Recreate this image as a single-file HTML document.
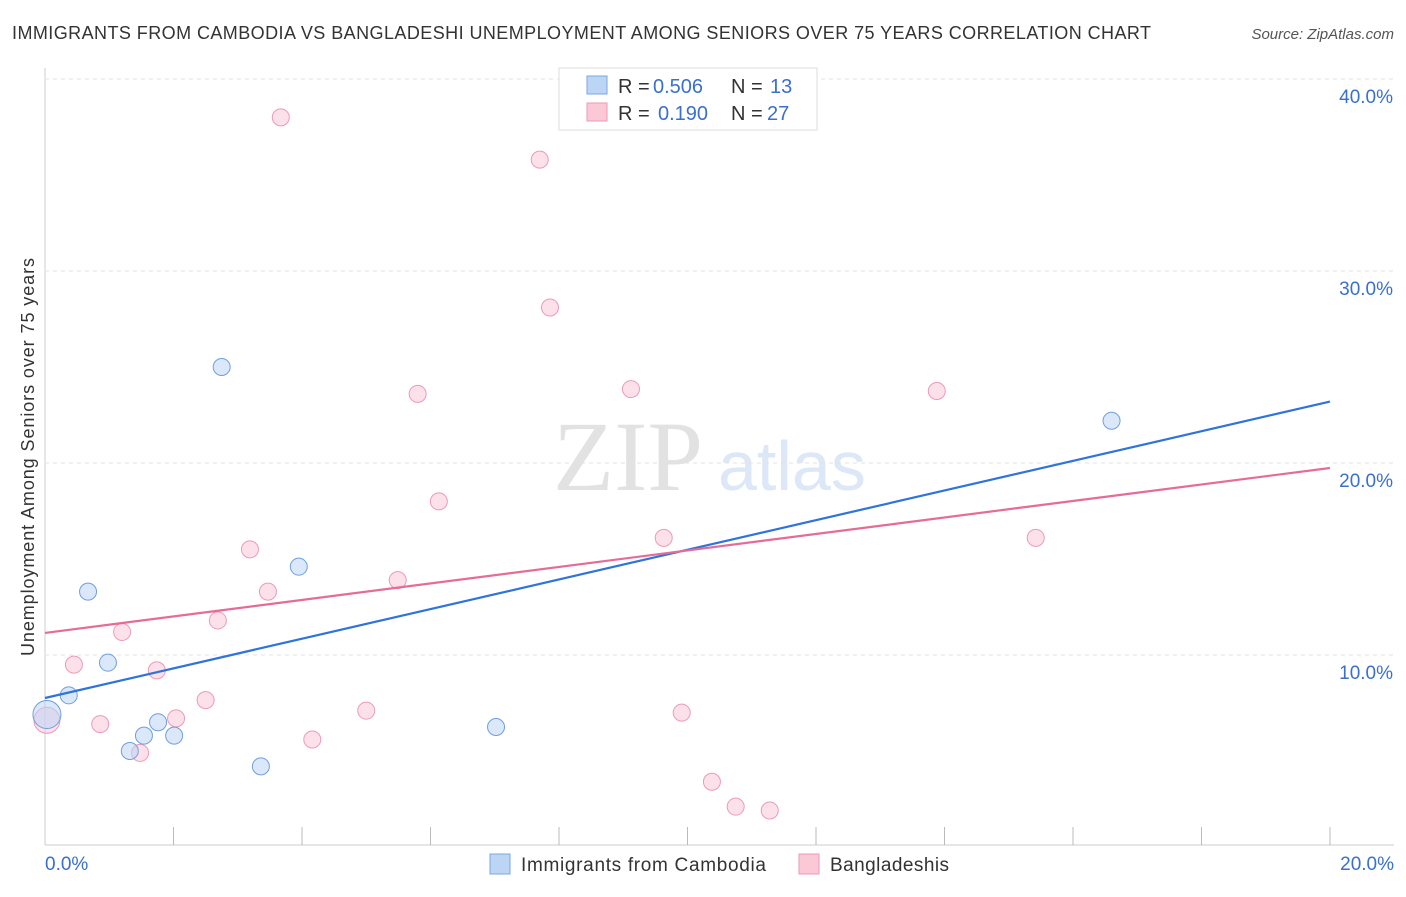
<!DOCTYPE html>
<html><head><meta charset="utf-8"><style>
body{margin:0;background:#fff;font-family:"Liberation Sans",sans-serif;}
</style></head><body>
<svg width="1406" height="892" xmlns="http://www.w3.org/2000/svg" id="svg">
<text x="12" y="39" font-size="18" fill="#333" textLength="1139">IMMIGRANTS FROM CAMBODIA VS BANGLADESHI UNEMPLOYMENT AMONG SENIORS OVER 75 YEARS CORRELATION CHART</text>
<text x="1394" y="39" font-size="15" fill="#555" font-style="italic" text-anchor="end">Source: ZipAtlas.com</text>
<text x="553" y="490" font-size="100" fill="#e2e2e2" font-family="Liberation Serif">ZIP</text>
<text x="718" y="490" font-size="70" fill="#dce7f7">atlas</text>
<g id="grid"></g><g id="marks"></g>
<text transform="translate(34,457) rotate(-90)" font-size="18" fill="#333" text-anchor="middle" textLength="398">Unemployment Among Seniors over 75 years</text>
<g>
<rect x="559" y="68" width="258" height="62" fill="#fff" stroke="#ddd"/>
<rect x="587" y="76" width="20" height="18" fill="#bcd5f5" stroke="#7aa6e0"/>
<rect x="587" y="103" width="20" height="18" fill="#fbc8d8" stroke="#ee9ab5"/>
<text x="618" y="93" font-size="20" fill="#333">R =</text>
<text x="653" y="93" font-size="20" fill="#3a6fd0">0.506</text>
<text x="731" y="93" font-size="20" fill="#333">N =</text>
<text x="770" y="93" font-size="20" fill="#3a6fd0">13</text>
<text x="618" y="120" font-size="20" fill="#333">R =</text>
<text x="658" y="120" font-size="20" fill="#3a6fd0">0.190</text>
<text x="731" y="120" font-size="20" fill="#333">N =</text>
<text x="767" y="120" font-size="20" fill="#3a6fd0">27</text>
</g>
<g>
<rect x="490" y="854" width="20" height="20" fill="#bcd5f5" stroke="#7aa6e0"/>
<text x="521" y="871" font-size="19" fill="#333" textLength="245">Immigrants from Cambodia</text>
<rect x="799" y="854" width="20" height="20" fill="#fbc8d8" stroke="#ee9ab5"/>
<text x="830" y="871" font-size="19" fill="#333" textLength="119">Bangladeshis</text>
</g>
</svg>
<script>
const xTicks=[0,2,4,6,8,10,12,14,16,18,20];
const yTicks=[10,20,30,40];
const camX=[0.03,0.37,0.67,0.98,1.32,1.54,1.76,2.01,2.75,3.36,3.95,7.02,16.6];
const camY=[6.9,7.9,13.3,9.6,5.0,5.8,6.5,5.8,25.0,4.2,14.6,6.25,22.2];
const banX=[0.03,0.45,0.86,1.2,1.48,1.74,2.04,2.5,2.69,3.19,3.47,3.67,4.16,5.0,5.49,5.8,6.13,7.7,7.86,9.12,9.63,9.91,10.38,10.75,11.28,13.88,15.42];
const banY=[6.6,9.5,6.4,11.2,4.9,9.2,6.7,7.65,11.8,15.5,13.3,38.0,5.6,7.1,13.9,23.6,18.0,35.8,28.1,23.85,16.1,7.0,3.4,2.1,1.9,23.75,16.1];
const camLine=[7.76,23.2];
const banLine=[11.15,19.74];
const NS="http://www.w3.org/2000/svg";
const sx=v=>45+v*64.25, sy=v=>847-v*19.2;
function mk(t,a,p){const e=document.createElementNS(NS,t);for(const k in a)e.setAttribute(k,a[k]);p.appendChild(e);return e;}
const g=document.getElementById('grid'),m=document.getElementById('marks');
let ax=mk('line',{x1:45,y1:68,x2:45,y2:845,stroke:'#ccc'},g);


let bx=mk('line',{x1:45,y1:845,x2:1394,y2:845,stroke:'#ccc'},g);


yTicks.forEach(v=>{
 let l=mk('line',{x1:45,y1:sy(v),x2:1394,y2:sy(v),stroke:'#e3e3e3','stroke-dasharray':'4,4'},g);
 
 
 let t=mk('text',{x:1393,y:sy(v)+24,'font-size':19,fill:'#3a6fd0','text-anchor':'end'},g);t.textContent=v.toFixed(1)+'%';
 
 
});
xTicks.forEach(v=>{
 if(v>0){let l=mk('line',{x1:sx(v),y1:827,x2:sx(v),y2:845,stroke:'#bbb'},g);
 
 }
});
[[0,'start',45],[20,'end',1394]].forEach(([v,a,x])=>{let t=mk('text',{x:x,y:870,'font-size':19,fill:'#3a6fd0','text-anchor':a},g);t.textContent=v.toFixed(1)+'%';
 
 });
function pts(X,Y,f,s,name){X.forEach((x,i)=>{let r=i==0?(name=='cam'?14:13):8.5;
 let c=mk('circle',{cx:sx(x),cy:sy(Y[i]),r:r,fill:f,'fill-opacity':0.55,stroke:s,'stroke-width':1},m);
 
 });}
pts(banX,banY,'#fbc8d8','#ee9ab5','bangladeshi');
pts(camX,camY,'#bcd5f5','#6f9fe0','cam');
let l1=mk('line',{x1:sx(0),y1:sy(camLine[0]),x2:sx(20),y2:sy(camLine[1]),stroke:'#2f74d8','stroke-width':2.2},m);


let l2=mk('line',{x1:sx(0),y1:sy(banLine[0]),x2:sx(20),y2:sy(banLine[1]),stroke:'#e56b98','stroke-width':2.2},m);


</script>
</body></html>
